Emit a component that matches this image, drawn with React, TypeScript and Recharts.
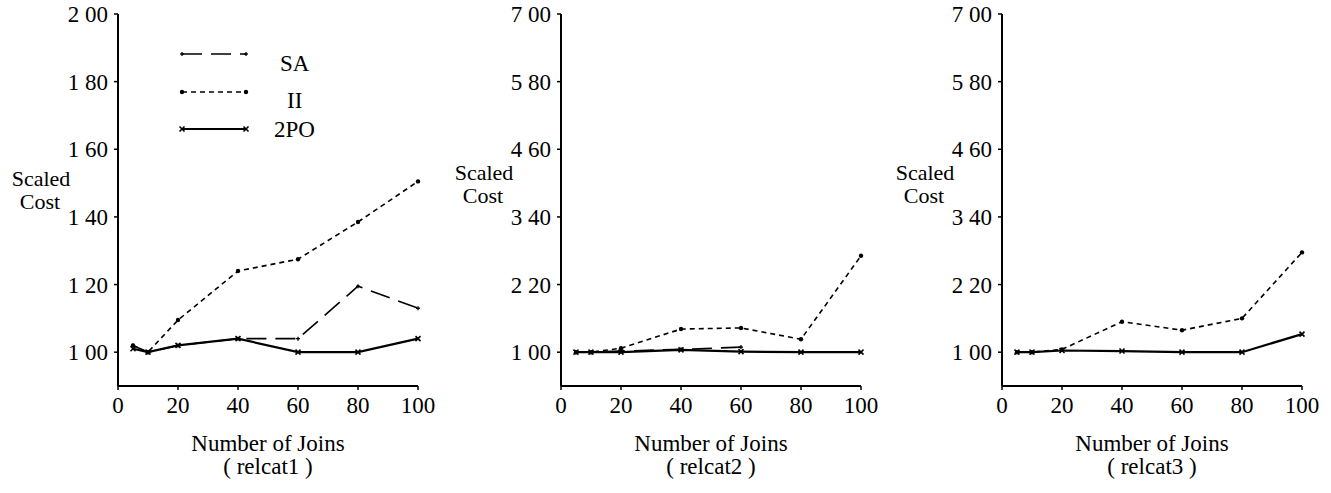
import React from 'react';
import { LineChart, Line, XAxis, YAxis, Legend } from 'recharts';

const joins = [5, 10, 20, 40, 60, 80, 100];
const xTicks = [0, 20, 40, 60, 80, 100];

// relcat1
const sa1 = [1.02, 1.0, 1.02, 1.04, 1.04, 1.195, 1.13];
const ii1 = [1.02, 1.0, 1.095, 1.24, 1.275, 1.385, 1.505];
const po1 = [1.01, 1.0, 1.02, 1.04, 1.0, 1.0, 1.04];

// relcat2
const sa2 = [1.0, 1.0, 1.02, 1.05, 1.09, null, null];
const ii2 = [1.0, 1.0, 1.07, 1.41, 1.43, 1.23, 2.71];
const po2 = [1.0, 1.0, 1.0, 1.04, 1.01, 1.0, 1.0];

// relcat3
const ii3 = [1.0, 1.0, 1.05, 1.54, 1.39, 1.6, 2.77];
const po3 = [1.0, 1.0, 1.03, 1.02, 1.0, 1.0, 1.32];

const yTicks1 = [1.0, 1.2, 1.4, 1.6, 1.8, 2.0];
const yTicks23 = [1.0, 2.2, 3.4, 4.6, 5.8, 7.0];
const yDomain1 = [0.9, 2.0];
const yDomain23 = [0.4, 7.0];

const seriesNames = ['SA', 'II', '2PO'];
const panelTitles = ['( relcat1 )', '( relcat2 )', '( relcat3 )'];
const xTitle = 'Number of Joins';
const yTitle = ['Scaled', 'Cost'];

const FONT = "'Liberation Serif', 'Times New Roman', serif";
const FS = 23;
const FS_Y = 22;

const styles: Record<string, { dash?: string; width: number; dot: string }> = {
  SA: { dash: '20 9', width: 1.6, dot: 'plus' },
  II: { dash: '5 4', width: 1.6, dot: 'circle' },
  '2PO': { dash: undefined, width: 2.2, dot: 'cross' },
};

function Marker({ kind, x, y }: { kind: string; x: number; y: number }) {
  if (kind === 'cross') {
    return (
      <g stroke="#000" strokeWidth={1.6}>
        <line x1={x - 2.5} y1={y - 2.5} x2={x + 2.5} y2={y + 2.5} />
        <line x1={x - 2.5} y1={y + 2.5} x2={x + 2.5} y2={y - 2.5} />
      </g>
    );
  }
  if (kind === 'plus') {
    return (
      <g stroke="#000" strokeWidth={1.3}>
        <line x1={x - 2} y1={y} x2={x + 2} y2={y} />
        <line x1={x} y1={y - 2} x2={x} y2={y + 2} />
      </g>
    );
  }
  return <circle cx={x} cy={y} r={2.2} fill="#000" />;
}

const makeDot = (kind: string) => (props: any) => {
  const { cx, cy, index } = props;
  if (cx == null || cy == null || isNaN(cx) || isNaN(cy)) return <g key={`d-${index}`} />;
  return (
    <g key={`d-${index}`}>
      <Marker kind={kind} x={cx} y={cy} />
    </g>
  );
};

const fmtY = (v: number) => v.toFixed(2).replace('.', ' ');

function LegendContent(props: any) {
  const payload = ([...(props.payload || [])] as any[]).sort(
    (a, b) => seriesNames.indexOf(String(a.value)) - seriesNames.indexOf(String(b.value))
  );
  const rows = [
    { lineY: 14, textX: 105, textY: 31 },
    { lineY: 52, textX: 112, textY: 68 },
    { lineY: 89, textX: 99, textY: 97 },
  ];
  return (
    <svg width={170} height={110} style={{ overflow: 'visible', display: 'block' }}>
      {payload.map((p: any, i: number) => {
        const name = String(p.value);
        const st = styles[name];
        const r = rows[i] || rows[0];
        return (
          <g key={name}>
            <line x1={7} y1={r.lineY} x2={71} y2={r.lineY} stroke="#000" strokeWidth={st.width} strokeDasharray={st.dash} />
            <Marker kind={st.dot} x={7} y={r.lineY} />
            <Marker kind={st.dot} x={71} y={r.lineY} />
            <text x={r.textX} y={r.textY} fontFamily={FONT} fontSize={FS} fill="#000">
              {name}
            </text>
          </g>
        );
      })}
    </svg>
  );
}

type PanelProps = {
  left: number;
  rows: any[];
  names: string[];
  domain: number[];
  ticks: number[];
  title: string;
  yLabelBase: number;
  legend?: boolean;
};

function Panel({ left, rows, names, domain, ticks, title, yLabelBase, legend }: PanelProps) {
  const xLabel = (p: any) => {
    const vb = p.viewBox || {};
    const cx = vb.x + vb.width / 2;
    return (
      <g fontFamily={FONT} fontSize={FS} fill="#000">
        <text x={cx} y={451} textAnchor="middle">{xTitle}</text>
        <text x={cx} y={474} textAnchor="middle">{title}</text>
      </g>
    );
  };
  const yLabel = () => (
    <g fontFamily={FONT} fontSize={FS_Y} fill="#000">
      <text x={41} y={yLabelBase} textAnchor="middle">{yTitle[0]}</text>
      <text x={40} y={yLabelBase + 23} textAnchor="middle">{yTitle[1]}</text>
    </g>
  );
  return (
    <div style={{ position: 'absolute', left, top: 0 }}>
      <LineChart width={440} height={493} data={rows} margin={{ top: 14, right: 22, left: 0, bottom: 0 }}>
        <XAxis
          dataKey="joins"
          type="number"
          domain={[0, 100]}
          ticks={xTicks}
          height={107}
          axisLine={{ stroke: '#000', strokeWidth: 2 }}
          tickLine={{ stroke: '#000', strokeWidth: 1.5 }}
          tickSize={4}
          tickMargin={7}
          tick={{ fill: '#000', fontFamily: FONT, fontSize: FS }}
          label={{ content: xLabel } as any}
        />
        <YAxis
          type="number"
          domain={domain}
          ticks={ticks}
          width={118}
          tickFormatter={fmtY}
          axisLine={{ stroke: '#000', strokeWidth: 2 }}
          tickLine={{ stroke: '#000', strokeWidth: 1.5 }}
          tickSize={4}
          tickMargin={6}
          tick={{ fill: '#000', fontFamily: FONT, fontSize: FS }}
          allowDataOverflow
          label={{ content: yLabel } as any}
        />
        {names.map((n) => (
          <Line
            key={n}
            dataKey={n}
            name={n}
            stroke="#000"
            strokeWidth={styles[n].width}
            strokeDasharray={styles[n].dash}
            dot={makeDot(styles[n].dot)}
            activeDot={false}
            isAnimationActive={false}
            connectNulls={false}
            type="linear"
          />
        ))}
        {legend && (
          <Legend
            layout="horizontal"
            verticalAlign="middle"
            align="center"
            content={LegendContent}
            wrapperStyle={{ position: 'absolute', left: 175, top: 40, width: 170, height: 110 }}
          />
        )}
      </LineChart>
    </div>
  );
}

function rowsFor(cols: Record<string, (number | null)[]>) {
  return joins.map((j, i) => {
    const r: any = { joins: j };
    Object.keys(cols).forEach((k) => {
      r[k] = cols[k][i];
    });
    return r;
  });
}

export default function App() {
  const r1 = rowsFor({ SA: sa1, II: ii1, '2PO': po1 });
  const r2 = rowsFor({ SA: sa2, II: ii2, '2PO': po2 });
  const r3 = rowsFor({ II: ii3, '2PO': po3 });
  return (
    <div style={{ position: 'absolute', left: 0, top: 0, width: 1331, height: 493, background: '#fff' }}>
      <Panel left={0} rows={r1} names={seriesNames} domain={yDomain1} ticks={yTicks1} title={panelTitles[0]} yLabelBase={186} legend />
      <Panel left={443} rows={r2} names={seriesNames} domain={yDomain23} ticks={yTicks23} title={panelTitles[1]} yLabelBase={180} />
      <Panel left={884} rows={r3} names={['II', '2PO']} domain={yDomain23} ticks={yTicks23} title={panelTitles[2]} yLabelBase={180} />
    </div>
  );
}
